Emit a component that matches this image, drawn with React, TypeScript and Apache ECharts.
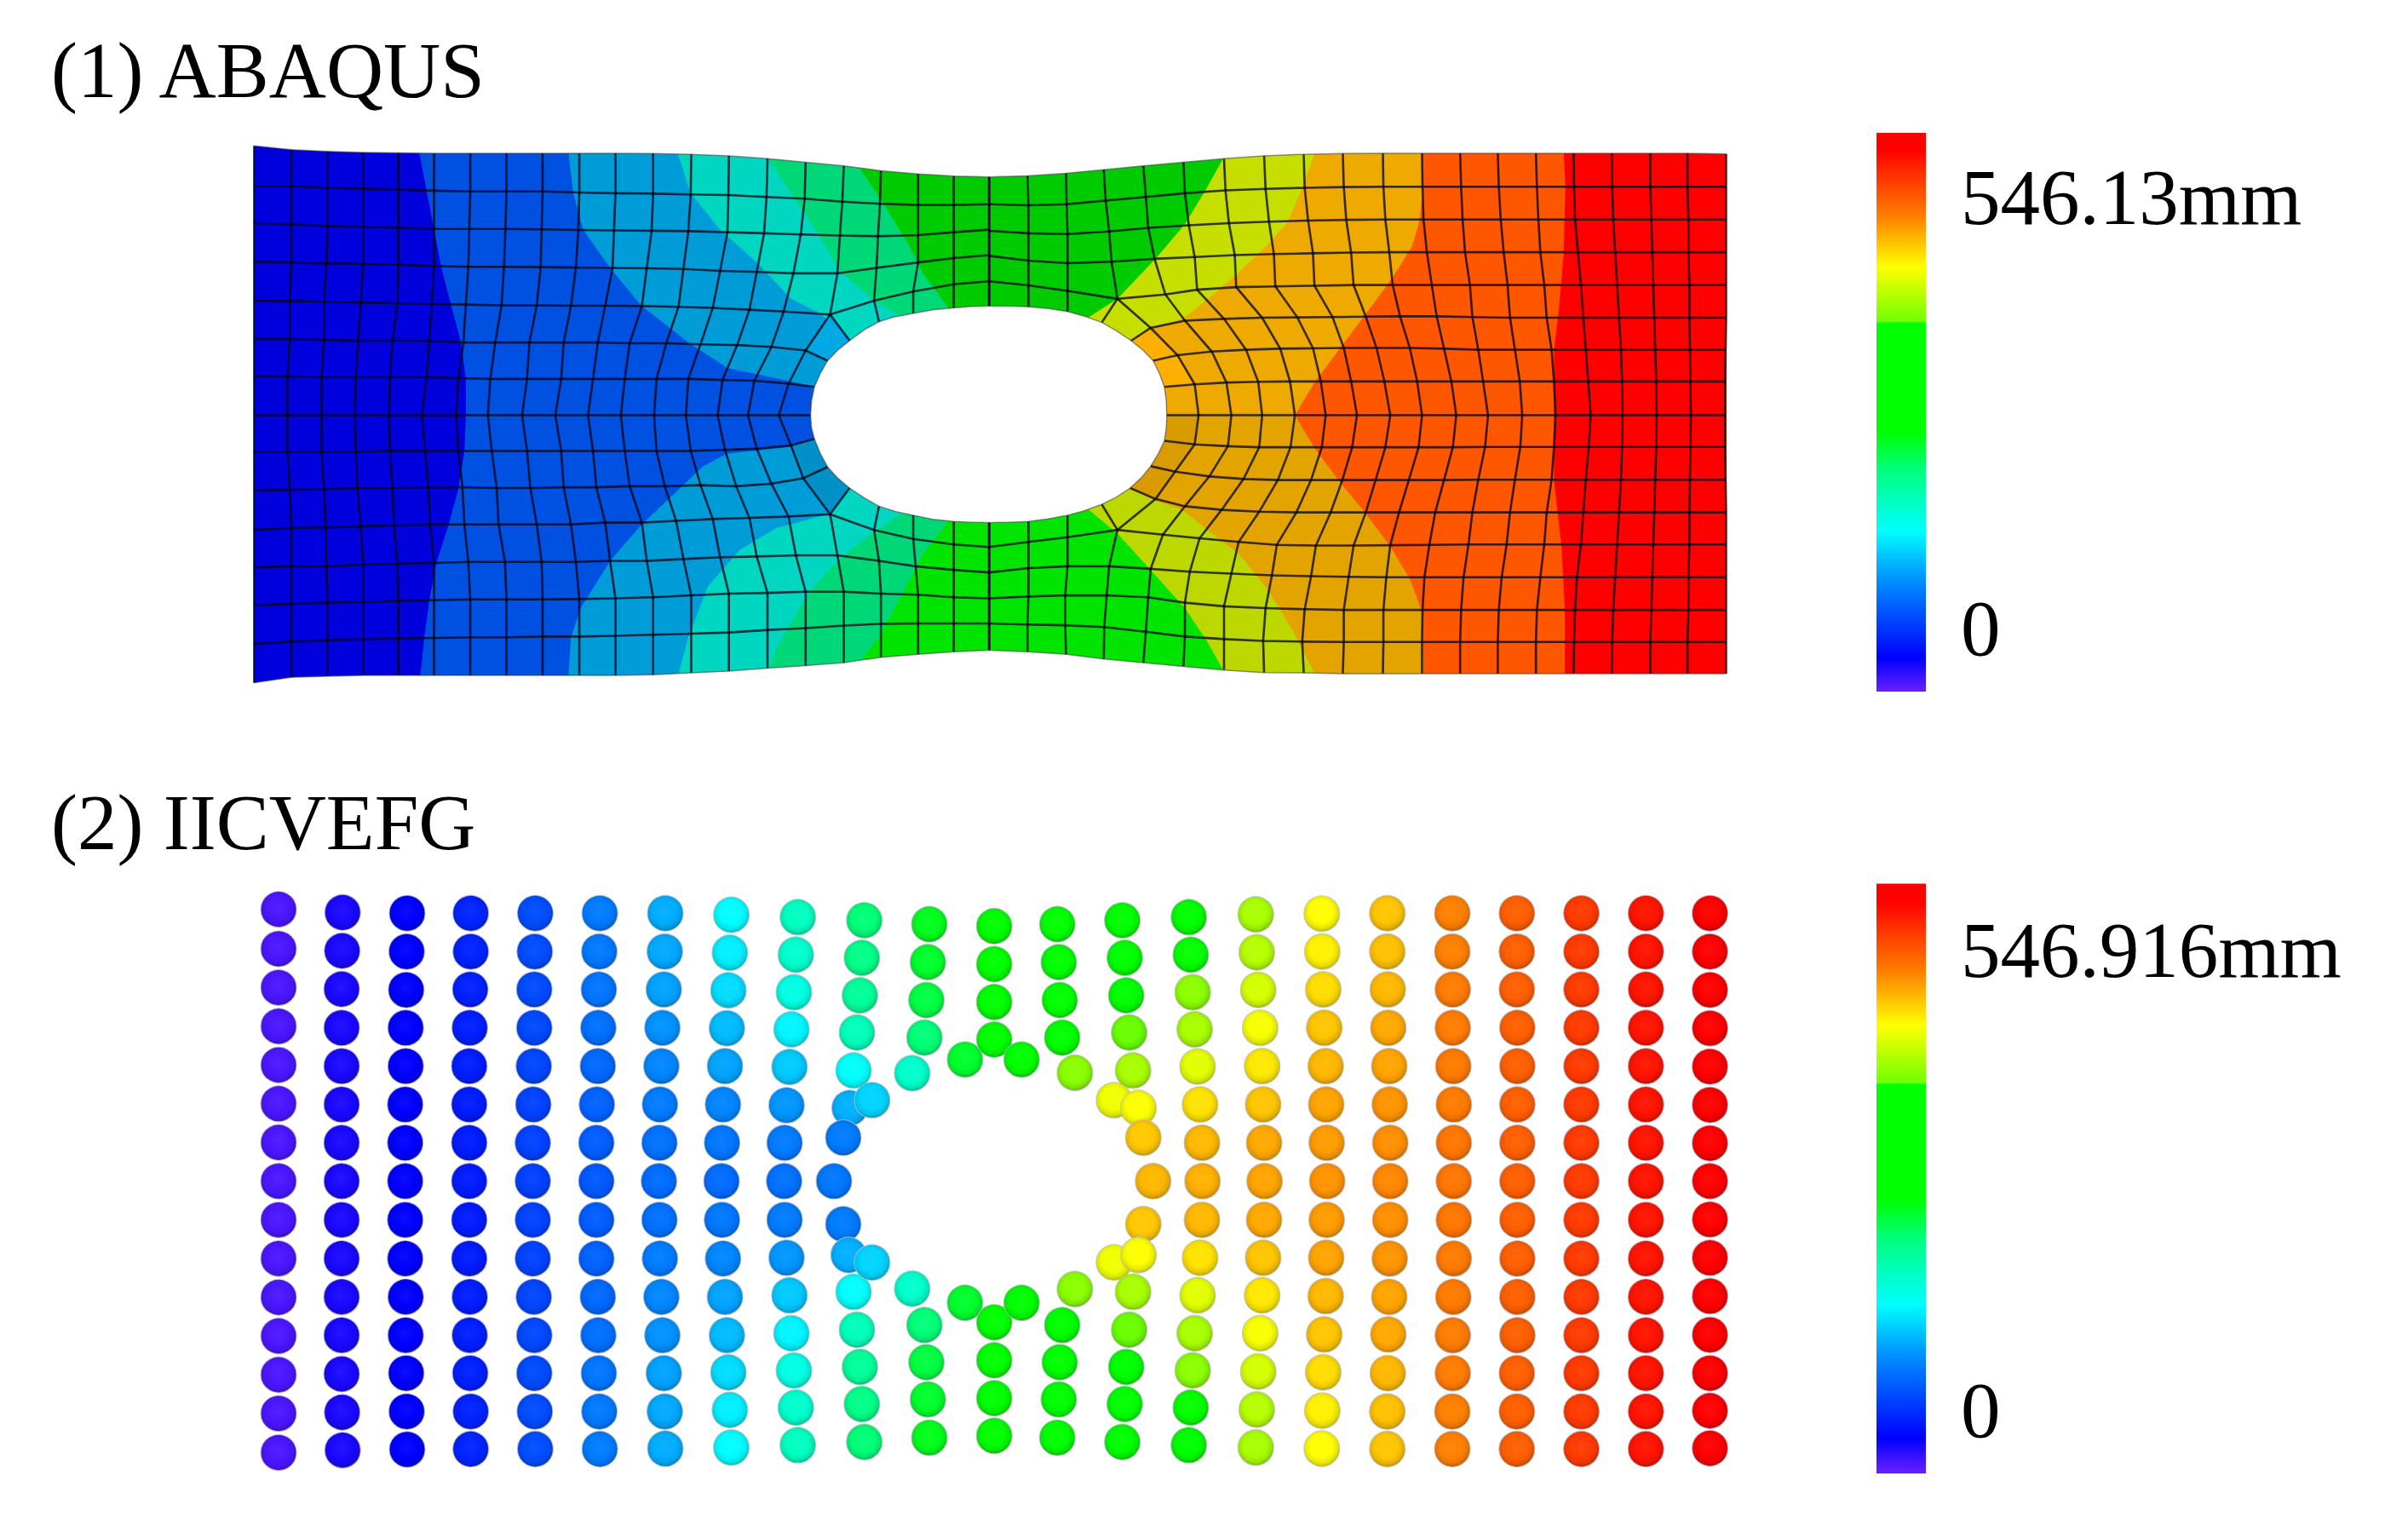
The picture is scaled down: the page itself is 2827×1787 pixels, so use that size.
import React, { useEffect, useRef } from "react";
import * as echarts from "echarts";

// ---------- text ----------
const titleAbaqus = "(1) ABAQUS";
const titleMeshfree = "(2) IICVEFG";
const maxAbaqus = 546.13;
const maxMeshfree = 546.916;
const labelAbaqus = "546.13mm";
const labelMeshfree = "546.916mm";
const labelZero = "0";

// ---------- colour scale (fraction of the range, bottom to top of the bar) ----------
const scaleT = [0, 0.06, 0.2, 0.287, 0.396, 0.465, 0.66, 0.662, 0.76, 0.85, 0.97, 1];
const scaleC = ["#6a20ff", "#0000ff", "#0090ff", "#00ffff", "#00ff80", "#00ff00", "#00ff00", "#70ff00", "#ffff00", "#ff8000", "#ff0000", "#ff0000"];

// ---------- ABAQUS mesh, left half: rows of nodes, top to bottom ----------
const leftRowsX = [
  [32,108,182,255,327,400,474,548,622,697,771,848,926,1003,1082,1160,1238,1314,1390,1463,1535],
  [32,108,182,255,327,400,474,548,622,697,771,848,925,1002,1080,1158,1235,1312,1390,1463,1535],
  [32,108,182,255,327,400,472,546,620,695,768,845,920,1000,1075,1150,1230,1308,1390,1463,1535],
  [32,108,180,255,327,400,470,543,618,690,765,835,910,985,1060,1135,1225,1305,1390,1463,1535],
  [32,105,175,250,325,395,465,538,610,680,750,825,900,970,1045,1115,1210,1300,1380,1463,1535],
  [32,105,175,245,315,390,460,525,595,665,735,800,875,945,1020,1090,1160,1205],
  [32,100,170,240,310,385,450,515,590,660,725,790,855,920,990,1055,1125,1178],
  [32,100,170,238,308,375,445,510,580,648,715,782,850,915,980,1042,1105,1170],
  [32,100,170,240,310,382,450,518,590,660,725,790,855,925,995,1060,1130,1178],
  [32,105,175,243,315,388,458,528,597,665,732,800,872,945,1018,1090,1155,1205],
  [32,108,178,250,318,392,462,532,610,680,750,825,895,970,1045,1125,1210,1300,1380,1463,1535],
  [32,108,180,255,325,400,470,545,620,690,760,835,910,985,1060,1140,1225,1310,1385,1463,1535],
  [32,108,182,255,327,400,474,548,622,697,771,848,926,1003,1082,1160,1238,1314,1390,1463,1535],
  [32,108,182,255,327,400,474,548,622,697,771,848,926,1003,1082,1160,1238,1314,1390,1463,1535],
  [32,108,182,255,327,400,474,548,622,697,771,848,926,1003,1082,1160,1238,1314,1390,1463,1535],
];
const leftRowsY = [
  [50,60,65,68,69,70,70,70,70,70,70,71,73,77,85,95,105,118,127,133,135],
  [160,160,165,167,170,173,175,175,175,178,180,181,183,185,190,195,203,209,212,212,210],
  [262,265,270,272,275,278,278,278,279,281,282,283,284,287,290,293,296,298,295,287,280],
  [368,370,373,374,376,380,382,382,383,384,385,386,388,393,396,400,400,385,370,358,350],
  [475,476,478,480,482,484,486,488,488,489,489,490,492,495,500,505,513,475,450,430,422],
  [580,580,583,585,585,585,590,590,590,590,590,592,592,595,597,602,612,640],
  [683,683,685,685,685,685,688,690,690,690,690,690,690,690,693,695,703,712],
  [790,790,790,790,790,790,790,790,790,790,790,790,790,790,790,790,790,790],
  [890,890,890,890,888,888,888,888,888,888,888,888,888,888,885,882,873,855],
  [997,995,993,990,990,988,988,990,990,988,988,985,985,982,985,978,963,932],
  [1105,1100,1098,1095,1092,1090,1090,1090,1090,1090,1085,1085,1080,1075,1072,1068,1062,1105,1130,1145,1152],
  [1208,1205,1205,1200,1198,1196,1193,1193,1193,1193,1190,1190,1185,1180,1178,1175,1175,1190,1205,1215,1222],
  [1312,1308,1305,1303,1300,1298,1296,1296,1296,1295,1293,1290,1285,1280,1278,1275,1275,1280,1283,1290,1293],
  [1418,1412,1408,1405,1403,1402,1400,1400,1398,1398,1396,1393,1390,1387,1380,1375,1368,1363,1362,1362,1362],
  [1525,1510,1507,1505,1505,1505,1505,1505,1505,1505,1505,1503,1498,1493,1485,1478,1470,1455,1447,1440,1436],
];
const leftSpokes = [
  [[1210,513],[1250,585]], [[1300,475],[1310,533]], [[1380,450],[1380,510]], [[1463,430],[1463,495]], [[1535,422],[1535,490]],
  [[1210,1062],[1250,990]], [[1300,1105],[1310,1040]], [[1380,1130],[1380,1065]], [[1463,1145],[1463,1082]], [[1535,1152],[1535,1085]],
];
const leftHole = [[1545,490],[1535,490],[1500,491],[1463,495],[1420,500],[1380,510],[1340,520],[1310,533],[1280,555],[1250,585],[1225,612],[1205,640],[1190,675],[1178,712],[1172,750],[1170,790],[1172,825],[1178,855],[1190,895],[1205,932],[1225,962],[1250,990],[1280,1017],[1310,1040],[1345,1055],[1380,1065],[1420,1076],[1463,1082],[1500,1084],[1535,1085],[1545,1085]];

// ---------- ABAQUS mesh, right half ----------
const rightRowsX = [
  [20,98,177,254,335,417,500,582,663,743,825,905,983,1060,1138,1215,1293,1372,1448,1527],
  [20,100,178,258,340,420,503,585,665,745,826,906,985,1062,1140,1216,1294,1372,1448,1527],
  [20,100,180,265,345,428,510,592,672,750,830,908,988,1066,1143,1218,1296,1374,1450,1527],
  [20,100,180,270,358,440,522,602,682,760,838,915,993,1072,1147,1224,1300,1376,1450,1527],
  [20,100,180,282,380,445,525,605,685,765,845,925,1003,1080,1155,1230,1304,1378,1452,1527],
  [null,null,310,350,420,500,578,650,722,790,860,935,1008,1085,1160,1235,1308,1380,1452,1527],
  [null,null,355,405,475,545,615,682,745,812,880,950,1020,1095,1170,1240,1312,1382,1453,1526],
  [null,null,378,440,505,570,635,698,760,828,895,965,1030,1105,1175,1245,1314,1384,1454,1525],
  [null,null,383,448,515,578,645,708,772,840,905,975,1040,1110,1178,1250,1315,1385,1455,1525],
  [null,null,378,440,508,572,636,700,762,830,898,968,1034,1106,1175,1246,1314,1384,1454,1525],
  [null,null,350,400,470,540,610,678,742,810,878,950,1020,1095,1170,1240,1312,1382,1453,1526],
  [null,null,308,360,420,495,572,648,718,790,858,932,1008,1085,1160,1235,1308,1380,1452,1527],
  [20,100,180,282,375,450,530,608,688,765,840,920,1000,1078,1155,1230,1304,1378,1452,1527],
  [20,100,180,265,350,430,515,598,678,755,832,910,990,1068,1147,1222,1300,1376,1450,1527],
  [20,100,175,260,345,420,500,585,665,745,826,906,985,1062,1140,1218,1296,1374,1450,1527],
  [20,98,175,255,340,420,500,580,660,745,826,905,983,1060,1138,1216,1294,1372,1448,1527],
  [20,98,177,254,335,417,500,582,663,743,825,905,983,1060,1138,1215,1293,1372,1448,1527],
];
const rightRowsY = [
  [135,132,125,115,105,95,85,77,73,71,70,70,70,70,70,70,70,70,70,72],
  [210,213,210,200,190,180,172,168,165,163,162,162,162,162,162,162,162,162,162,162],
  [283,290,292,285,275,268,262,258,255,253,252,252,252,252,252,252,252,252,252,252],
  [352,365,372,368,360,355,350,347,345,343,342,342,342,342,342,342,342,342,342,342],
  [422,433,448,470,458,445,438,436,434,432,432,432,432,432,432,432,432,432,432,432],
  [null,null,585,550,530,525,522,521,520,519,518,518,520,522,522,522,522,522,522,522],
  [null,null,640,625,615,610,607,606,605,605,605,607,610,610,610,610,610,610,610,610],
  [null,null,712,705,700,698,697,697,697,697,697,697,697,697,697,697,697,697,697,697],
  [null,null,790,790,790,790,790,790,790,790,790,790,790,790,790,790,790,790,790,790],
  [null,null,860,870,875,878,878,878,878,878,878,878,877,877,877,877,877,877,877,877],
  [null,null,930,945,958,965,968,968,968,968,968,968,967,967,967,967,967,967,967,967],
  [null,null,990,1020,1040,1050,1055,1057,1057,1057,1057,1057,1057,1057,1057,1057,1057,1057,1057,1057],
  [1152,1138,1125,1105,1118,1128,1138,1146,1148,1148,1147,1146,1145,1145,1145,1145,1145,1145,1145,1145],
  [1222,1210,1205,1205,1212,1220,1225,1230,1232,1234,1235,1235,1235,1235,1235,1235,1235,1235,1235,1235],
  [1293,1288,1285,1285,1290,1305,1315,1320,1323,1325,1325,1325,1325,1325,1325,1325,1325,1325,1325,1325],
  [1362,1365,1367,1372,1385,1398,1405,1410,1412,1413,1413,1413,1413,1413,1413,1413,1413,1413,1413,1413],
  [1436,1440,1447,1460,1470,1480,1490,1497,1498,1500,1500,1500,1500,1500,1500,1500,1500,1500,1500,1500],
];
const rightSpokes = [
  [[20,422],[20,490]], [[100,433],[100,492]], [[180,448],[180,505]], [[282,470],[250,535]],
  [[20,1152],[20,1085]], [[100,1138],[100,1082]], [[180,1125],[180,1065]], [[282,1105],[250,1035]],
];
const rightHole = [[10,490],[20,490],[60,490],[100,492],[140,497],[180,505],[215,518],[250,535],[280,558],[310,585],[335,612],[355,640],[368,675],[378,712],[382,750],[383,790],[382,825],[378,860],[366,895],[350,930],[332,960],[308,990],[280,1015],[250,1035],[215,1052],[180,1065],[140,1075],[100,1082],[60,1084],[20,1085],[10,1085]];

// ---------- contour bands, from the green centre outwards ----------
const contourLeft5 = [[1270,10],[1270,110],[1320,210],[1370,320],[1400,400],[1450,490],[1450,1085],[1400,1170],[1350,1300],[1310,1400],[1275,1460],[1275,1555]];
const contourLeft4 = [[1085,10],[1085,90],[1135,190],[1185,290],[1230,395],[1300,475],[1355,518],[1355,1060],[1290,1120],[1220,1195],[1160,1290],[1100,1430],[1085,1490],[1085,1555]];
const contourLeft3 = [[900,10],[900,78],[925,180],[985,280],[1060,370],[1130,470],[1190,510],[1250,580],[1250,990],[1210,1060],[1100,1100],[1025,1160],[960,1260],[920,1400],[900,1500],[900,1555]];
const contourLeft2 = [[675,10],[675,70],[685,180],[705,280],[760,385],[825,490],[920,590],[1000,660],[1175,710],[1178,870],[1000,895],[950,930],[880,1020],[825,1090],[760,1190],[700,1320],[680,1400],[675,1505],[675,1555]];
const contourLeft1 = [[370,10],[370,70],[385,175],[400,280],[415,385],[435,488],[455,590],[465,690],[465,790],[462,890],[450,990],[430,1090],[405,1195],[390,1300],[380,1400],[372,1505],[372,1555]];
const contourRight7 = [[498,10],[498,85],[465,165],[420,265],[360,360],[282,470],[215,528],[215,1040],[282,1115],[350,1215],[420,1320],[465,1410],[498,1490],[498,1555]];
const contourRight8 = [[685,10],[685,72],[660,165],[630,260],[590,320],[520,410],[440,500],[415,525],[350,548],[310,585],[308,990],[350,1020],[415,1050],[470,1110],[530,1170],[590,1270],[640,1380],[685,1500],[685,1555]];
const contourRight9 = [[905,10],[905,70],[905,190],[900,255],[885,325],[860,380],[835,430],[785,520],[735,610],[685,700],[645,790],[685,880],[735,970],[790,1060],[840,1150],[880,1240],[905,1330],[908,1500],[908,1555]];
const contourRight10 = [[1195,10],[1195,72],[1198,160],[1195,340],[1185,500],[1175,610],[1175,790],[1175,970],[1190,1145],[1197,1320],[1197,1500],[1197,1555]];

// Cells next to the hole that carry a slightly different shade
const cellsLeftBright = [[1210,513],[1160,612],[1205,640],[1250,585]];
const cellsLeftDark = [[1178,855],[1130,873],[1155,963],[1210,1062],[1250,990],[1205,932]];
const cellsRightBright = [[310,585],[350,550],[405,625],[440,705],[378,712],[355,640]];
const cellsRightDark = [[383,790],[448,790],[440,870],[400,945],[360,1020],[308,990],[350,930],[378,860]];

// ---------- IICVEFG particles: [x, y, displacement mm], by column ----------
const ballsLeft = [
  [82,82,10],[82,183,10],[82,282,10],[82,381,10],[82,480,10],[82,579,10],[82,678,10],[82,777,10],[82,876,10],[82,975,10],[82,1074,10],[82,1173,10],[82,1272,10],[82,1371,10],[82,1471,10],
  [213,90,25],[212,188,25],[211,286,25],[211,385,25],[211,483,25],[211,581,25],[211,679,25],[211,777,25],[211,876,25],[211,975,25],[211,1073,25],[211,1171,25],[211,1270,25],[212,1368,25],[213,1465,25],
  [345,92,33],[344,190,33],[343,288,33],[342,385,33],[342,483,33],[341,581,33],[341,679,33],[341,777,33],[341,876,33],[341,975,33],[342,1073,33],[342,1171,33],[343,1268,33],[344,1366,33],[345,1463,33],
  [475,92,52],[475,190,51],[474,287,50],[473,385,49],[472,483,48],[472,581,47],[472,679,47],[472,777,47],[472,876,47],[472,975,47],[473,1073,48],[473,1171,49],[474,1268,50],[475,1366,51],[475,1462,52],
  [607,92,74],[606,190,73],[605,287,72],[605,385,71],[604,483,70],[603,581,68],[602,679,68],[602,777,67],[602,876,68],[602,975,68],[604,1073,70],[605,1171,71],[605,1268,72],[606,1366,73],[607,1462,74],
  [739,92,98],[738,190,97],[737,287,95],[736,385,92],[735,483,88],[733,581,85],[732,679,82],[732,777,80],[732,876,82],[732,975,85],[735,1073,88],[736,1171,92],[737,1268,95],[738,1366,97],[739,1462,98],
  [873,92,122],[872,190,120],[870,287,117],[867,385,110],[865,483,104],[862,581,98],[861,679,93],[860,777,90],[861,876,93],[862,975,98],[865,1073,104],[867,1171,110],[870,1268,117],[872,1366,120],[873,1461,122],
  [1008,96,156],[1005,193,150],[1002,289,142],[999,386,128],[995,483,118],[991,581,104],[989,679,96],[988,777,90],[989,876,96],[991,975,104],[995,1073,118],[999,1171,128],[1002,1266,142],[1005,1362,150],[1008,1458,156],
  [1144,102,186],[1140,198,180],[1136,294,170],[1131,389,153],[1127,485,134],[1121,583,112],[1117,679,98],[1116,777,93],[1117,876,98],[1121,973,112],[1127,1069,134],[1131,1166,153],[1136,1261,170],[1140,1356,180],[1144,1452,186],
  [1280,110,219],[1275,206,213],[1271,302,205],[1265,397,189],[1258,494,159],[1250,590,123],[1237,666,98],[1218,777,96],[1237,887,98],[1248,966,123],[1258,1060,159],[1265,1157,189],[1271,1252,205],[1275,1347,213],[1280,1444,219],
  [1413,120,246],[1410,217,241],[1407,314,235],[1403,410,219],[1378,501,181],[1296,570,139],[1296,985,139],[1378,1052,181],[1403,1145,219],[1407,1240,235],[1410,1335,241],[1413,1433,246],
  [1486,466,241],[1486,1088,241],
];
const ballsRight = [
  [30,125,262],[30,222,262],[30,319,262],[30,415,262],[30,1138,262],[30,1235,262],[30,1332,262],[30,1428,262],
  [86,466,328],[86,1088,328],
  [159,120,290],[162,217,290],[164,314,295],[169,410,300],[195,500,372],[275,570,410],[275,985,410],[195,1053,372],[169,1145,300],[164,1240,295],[162,1335,290],[159,1433,290],
  [292,110,310],[297,206,320],[300,302,330],[306,397,362],[314,494,383],[325,590,415],[335,666,437],[355,777,443],[335,887,437],[325,966,415],[314,1060,383],[306,1157,362],[300,1252,330],[297,1347,320],[292,1444,310],
  [428,102,330],[432,198,361],[436,294,372],[440,389,383],[446,484,405],[451,581,427],[455,679,443],[456,777,446],[455,876,443],[451,973,427],[446,1069,405],[440,1166,383],[436,1261,372],[432,1356,361],[428,1452,330],
  [565,95,383],[567,192,388],[570,288,399],[574,385,413],[578,483,424],[580,581,438],[582,679,449],[583,777,451],[582,876,449],[580,973,438],[578,1069,424],[574,1166,413],[570,1264,399],[567,1361,388],[565,1458,383],
  [700,93,416],[701,190,421],[703,287,429],[705,385,438],[708,483,443],[709,581,451],[710,679,454],[711,777,457],[710,876,454],[709,973,451],[708,1071,443],[705,1169,438],[703,1266,429],[701,1364,421],[700,1461,416],
  [834,92,438],[834,190,440],[835,287,443],[836,385,449],[838,483,451],[839,581,457],[840,679,459],[840,777,462],[840,876,459],[839,975,457],[838,1073,451],[836,1169,449],[835,1268,443],[834,1366,440],[834,1462,438],
  [967,92,465],[967,190,465],[968,287,467],[968,385,467],[969,483,468],[970,581,468],[970,679,470],[970,777,470],[970,876,470],[970,975,468],[969,1073,468],[968,1171,467],[968,1268,467],[967,1366,465],[967,1462,465],
  [1099,92,482],[1099,190,482],[1099,287,482],[1100,385,482],[1100,483,482],[1100,581,482],[1100,679,482],[1100,777,482],[1100,876,482],[1100,975,482],[1100,1073,482],[1100,1171,482],[1099,1268,482],[1099,1366,482],[1099,1462,482],
  [1231,92,501],[1231,190,501],[1231,287,501],[1231,385,501],[1231,483,501],[1231,581,501],[1231,679,501],[1231,777,501],[1231,876,501],[1231,975,501],[1231,1073,501],[1231,1171,501],[1231,1268,501],[1231,1366,501],[1231,1462,501],
  [1363,92,520],[1363,190,520],[1363,287,520],[1363,385,520],[1363,483,520],[1363,581,520],[1363,679,520],[1363,777,520],[1363,876,520],[1363,975,520],[1363,1073,520],[1363,1171,520],[1363,1268,520],[1363,1366,520],[1363,1462,520],
  [1494,92,541],[1494,190,541],[1494,288,541],[1494,386,541],[1494,484,541],[1494,582,541],[1494,680,541],[1494,777,541],[1494,875,541],[1494,973,541],[1494,1071,541],[1494,1170,541],[1494,1268,541],[1494,1364,541],[1494,1460,541],
];

// ---------- helpers ----------
function colorAt(t: number): string {
  for (let i = 1; i < scaleT.length; i++) {
    if (t <= scaleT[i]) {
      return echarts.color.lerp((t - scaleT[i - 1]) / (scaleT[i] - scaleT[i - 1]), [scaleC[i - 1], scaleC[i]]) as string;
    }
  }
  return scaleC[scaleC.length - 1];
}
const toward = (c: string, other: string, k: number) => echarts.color.lerp(k, [c, other]) as string;
function split(top: string, bottom: string) {
  return new echarts.graphic.LinearGradient(0, 0, 0, 1, [
    { offset: 0, color: top }, { offset: 0.5, color: top }, { offset: 0.5, color: bottom }, { offset: 1, color: bottom },
  ]);
}
function polygons(g: number, z: number, items: { points: number[][]; fill: any }[]): any {
  return {
    type: "custom", xAxisIndex: g, yAxisIndex: g, z, silent: true, clip: false,
    encode: { x: 0, y: 1 },
    data: items.map((it) => it.points[0]),
    renderItem: (p: any, api: any) => ({
      type: "polygon",
      shape: { points: items[p.dataIndex].points.map((q) => api.coord(q)) },
      style: { fill: items[p.dataIndex].fill },
    }),
  };
}
function polylines(g: number, z: number, lines: number[][][], stroke: string, width: number): any {
  return {
    type: "custom", xAxisIndex: g, yAxisIndex: g, z, silent: true, clip: false,
    encode: { x: 0, y: 1 },
    data: lines.map((l) => l[0]),
    renderItem: (p: any, api: any) => ({
      type: "polyline",
      shape: { points: lines[p.dataIndex].map((q) => api.coord(q)) },
      style: { fill: "none", stroke, lineWidth: width },
    }),
  };
}
function rowLines(xs: (number | null)[][], ys: (number | null)[][]): number[][][] {
  return xs.map((r, i) => r.map((x, j) => [x, ys[i][j]]).filter((q) => q[0] != null) as number[][]);
}
function colLines(xs: (number | null)[][], ys: (number | null)[][], n: number, skip: (j: number, i: number) => boolean): number[][][] {
  const out: number[][][] = [];
  for (let j = 0; j < n; j++) {
    let cur: number[][] = [];
    xs.forEach((r, i) => {
      const x = r[j];
      if (x == null || skip(j, i)) {
        if (cur.length > 1) out.push(cur);
        cur = [];
      } else cur.push([x as number, ys[i][j] as number]);
    });
    if (cur.length > 1) out.push(cur);
  }
  return out;
}
function balls(g: number, list: number[][]): any {
  return {
    type: "scatter", xAxisIndex: g, yAxisIndex: g, z: 5, silent: true, clip: false,
    symbol: "circle", symbolSize: 42,
    data: list.map((b) => {
      const c = colorAt(b[2] / maxMeshfree);
      return {
        value: b,
        itemStyle: {
          opacity: 1,
          color: new echarts.graphic.RadialGradient(0.48, 0.44, 0.58, [
            { offset: 0, color: toward(c, "#ffffff", 0.05) },
            { offset: 0.55, color: c },
            { offset: 0.8, color: toward(c, "#000000", 0.1) },
            { offset: 1, color: toward(c, "#000000", 0.3) },
          ]),
          borderColor: "rgba(190,190,205,0.7)",
          borderWidth: 1.2,
        },
      };
    }),
  };
}
function colorBar(g: number, max: number): any {
  const stops = scaleT.map((t, i) => ({ offset: 1 - t, color: scaleC[i] })).reverse();
  return {
    type: "bar", xAxisIndex: g, yAxisIndex: g, barWidth: 58, silent: true, z: 2,
    data: [max],
    itemStyle: { color: new echarts.graphic.LinearGradient(0, 0, 0, 1, stops) },
  };
}

const outerTopLeft = [[0, 0], [1545, 0], [1545, 135], ...leftRowsX[0].map((x, j) => [x, leftRowsY[0][j]]).reverse(), [0, 50]];
const outerBottomLeft = [[0, 1568], [1545, 1568], [1545, 1436], ...leftRowsX[14].map((x, j) => [x, leftRowsY[14][j]]).reverse(), [0, 1525]];
const outerTopRight = [[10, 0], [1568, 0], [1568, 72], ...rightRowsX[0].map((x, j) => [x as number, rightRowsY[0][j] as number]).reverse(), [10, 135]];
const outerBottomRight = [[10, 1568], [1568, 1568], [1568, 1500], ...rightRowsX[16].map((x, j) => [x as number, rightRowsY[16][j] as number]).reverse(), [10, 1436]];

function closeLeft(c: number[][]) { return [[32, 10], ...c, [32, 1555]]; }
function closeRight(c: number[][]) { return [[1527, 10], ...c, [1527, 1555]]; }

export default function App() {
  const ref = useRef<HTMLDivElement>(null);
  useEffect(() => {
    const chart = echarts.init(ref.current!, null, { renderer: "svg" });
    const frames = [
      [280, 150, 900, 670], [1150, 150, 900, 670], [280, 1030, 900, 720], [1150, 1030, 900, 720],
    ];
    const grid: any[] = frames.map((f) => ({ left: f[0], top: f[1], width: f[2], height: f[3] }));
    grid.push({ left: 2203, top: 156, width: 58, height: 656 });
    grid.push({ left: 2203, top: 1037.6, width: 58, height: 692.4 });
    const xAxis: any[] = frames.map((_, i) => ({ type: "value", gridIndex: i, min: 0, max: 1568, show: false }));
    const yAxis: any[] = frames.map((_, i) => ({ type: "value", gridIndex: i, min: 0, max: 1568, inverse: true, show: false }));
    [4, 5].forEach((i) => {
      xAxis.push({ type: "category", gridIndex: i, data: [""], show: false });
      yAxis.push({ type: "value", gridIndex: i, min: 0, max: i === 4 ? maxAbaqus : maxMeshfree, show: false });
    });

    const leftCols = colLines(leftRowsX, leftRowsY, 21, (j, i) => j >= 17 && i >= 5 && i <= 9);
    const rightCols = colLines(rightRowsX, rightRowsY, 20, (j, i) => j <= 2 && i >= 5 && i <= 11);
    const meshInk = "rgba(6,6,24,0.78)";

    const series: any[] = [
      polygons(0, 1, [
        { points: [[32, 10], [1542, 10], [1542, 1555], [32, 1555]], fill: split("#00ca00", "#00e400") },
        { points: closeLeft(contourLeft5), fill: "#00d878" },
        { points: closeLeft(contourLeft4), fill: "#00d6c0" },
        { points: closeLeft(contourLeft3), fill: "#009cd8" },
        { points: closeLeft(contourLeft2), fill: "#0050e2" },
        { points: closeLeft(contourLeft1), fill: "#0000dc" },
        { points: cellsLeftBright, fill: "#00a8e4" },
        { points: cellsLeftDark, fill: "#0090c8" },
      ]),
      polygons(1, 1, [
        { points: [[14, 10], [1527, 10], [1527, 1555], [14, 1555]], fill: split("#00ca00", "#00e400") },
        { points: closeRight(contourRight7), fill: split("#c6de00", "#bcd800") },
        { points: closeRight(contourRight8), fill: split("#eeaa00", "#e4a400") },
        { points: closeRight(contourRight9), fill: "#ff5600" },
        { points: closeRight(contourRight10), fill: "#ff0000" },
        { points: cellsRightBright, fill: "#fdb000" },
        { points: cellsRightDark, fill: "#d89c00" },
      ]),
      polygons(0, 2, [
        { points: outerTopLeft, fill: "#ffffff" },
        { points: outerBottomLeft, fill: "#ffffff" },
        { points: leftHole, fill: "#ffffff" },
      ]),
      polygons(1, 2, [
        { points: outerTopRight, fill: "#ffffff" },
        { points: outerBottomRight, fill: "#ffffff" },
        { points: rightHole, fill: "#ffffff" },
      ]),
      polylines(0, 3, [...rowLines(leftRowsX, leftRowsY).slice(1, 14), ...leftCols, ...leftSpokes], meshInk, 2.6),
      polylines(1, 3, [...rowLines(rightRowsX, rightRowsY).slice(1, 16), ...rightCols, ...rightSpokes], meshInk, 2.6),
      polylines(0, 3, [rowLines(leftRowsX, leftRowsY)[0], rowLines(leftRowsX, leftRowsY)[14], leftHole.slice(1, -1)], "rgba(60,60,60,0.55)", 1.5),
      polylines(1, 3, [rowLines(rightRowsX, rightRowsY)[0], rowLines(rightRowsX, rightRowsY)[16], rightHole.slice(1, -1)], "rgba(60,60,60,0.55)", 1.5),
      balls(2, ballsLeft),
      balls(3, ballsRight),
      colorBar(4, maxAbaqus),
      colorBar(5, maxMeshfree),
    ];

    const label = (text: string, x: number, baseline: number) => ({
      type: "text", z: 20, silent: true,
      style: {
        text, x, y: baseline + 19, font: '93px "Liberation Serif"', fill: "#000000",
        textAlign: "left", textVerticalAlign: "bottom",
      },
    });

    chart.setOption({
      animation: false,
      backgroundColor: "#ffffff",
      grid, xAxis, yAxis, series,
      graphic: [
        label(titleAbaqus, 60, 110),
        label(titleMeshfree, 60, 993),
        label(labelAbaqus, 2302, 259),
        label(labelZero, 2302, 765),
        label(labelMeshfree, 2302, 1143),
        label(labelZero, 2302, 1683),
      ],
    });
    return () => chart.dispose();
  }, []);
  return <div ref={ref} style={{ position: "absolute", left: 0, top: 0, width: 2827, height: 1787 }} />;
}
